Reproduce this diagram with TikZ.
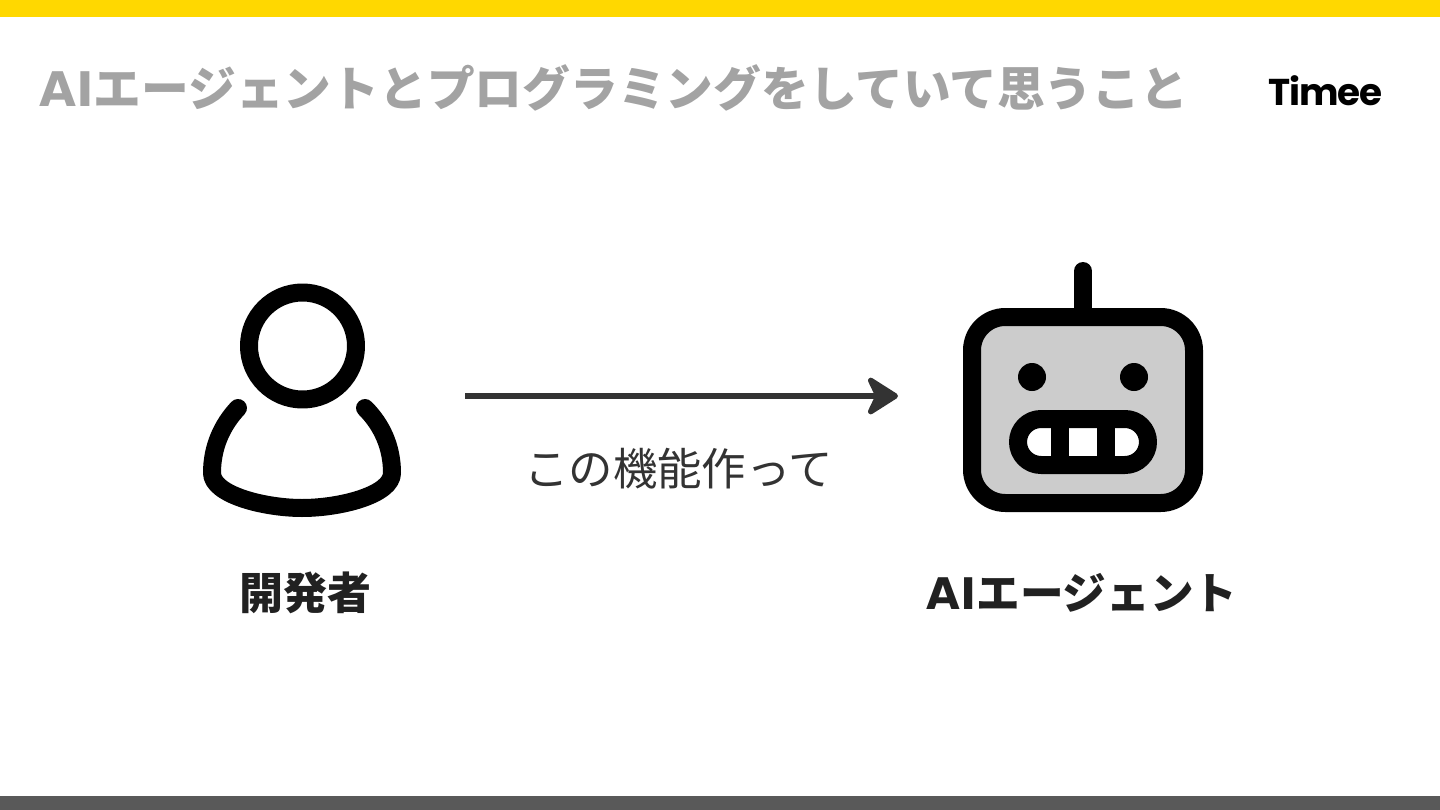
\documentclass[tikz,border=0pt]{standalone}
\usepackage{fontspec}
\newfontfamily\cjk{Noto Sans CJK JP}
\newfontfamily\latinbold{DejaVu Sans Bold}
\newfontfamily\logofont[LetterSpace=-3]{Poppins}
\usetikzlibrary{arrows.meta}
\definecolor{topbar}{HTML}{FFD800}
\definecolor{botbar}{HTML}{595959}
\definecolor{titlegray}{HTML}{A3A3A3}
\definecolor{dark}{HTML}{333333}
\definecolor{facegray}{HTML}{CCCCCC}
\begin{document}
\begin{tikzpicture}[x=.75pt,y=-.75pt,
  icon/.style={line width=13.5pt,line cap=round,line join=round},
  who/.style={font=\cjk\bfseries\fontsize{33}{38}\selectfont,text=black!87},
  said/.style={font=\cjk\fontsize{33.3}{40}\selectfont,text=dark}]
  \useasboundingbox (0,0) rectangle (1440,810);

  %bars
  \fill[topbar] (0,0) rectangle (1440,17);
  \fill[botbar] (0,796) rectangle (1440,810);

  %title and logo
  \node[anchor=west,inner sep=0,font=\cjk\bfseries\fontsize{35.8}{42}\selectfont,text=titlegray] (title) at (39,88) {{\latinbold AI}エージェントとプログラミングをしていて思うこと};
  \node[inner sep=0,font=\logofont\bfseries\fontsize{28}{36}\selectfont] (logo) at (1325.5,91) {Timee};

  %person
  \draw[icon] (302.5,346) circle (53.5);
  \draw[icon] (238,408) .. controls (222,425) and (212,447) .. (212,473)
    .. controls (212,495) and (265,508) .. (302,508)
    .. controls (340,508) and (392,495) .. (392,473)
    .. controls (392,447) and (382,425) .. (365,408);
  \node[who] (dev) at (305,593) {開発者};

  %robot
  \draw[icon] (1083,271) -- (1083,317);
  \draw[icon,fill=facegray,rounded corners=25pt] (972,317) rectangle (1194,503);
  \fill (1032,377) circle (14);
  \fill (1134,377) circle (14);
  \draw[icon,fill=white,rounded corners=17.25pt] (1018,419) rectangle (1148,465);
  \draw[icon,line cap=butt] (1060,419) -- (1060,465);
  \draw[icon,line cap=butt] (1106,419) -- (1106,465);
  \node[who,font=\cjk\bfseries\fontsize{32.7}{38}\selectfont] (agent) at (1082,593) {{\latinbold AI}エージェント};

  %arrow
  \coordinate (from) at (465,396);
  \coordinate (to) at (898,396);
  \draw[dark,line width=4.2pt,-{Stealth[length=27pt,width=34pt,inset=8pt,round]}] (from) -- (to);
  \node[said] (ask) at (678.5,469) {この機能作って};
\end{tikzpicture}
\end{document}
